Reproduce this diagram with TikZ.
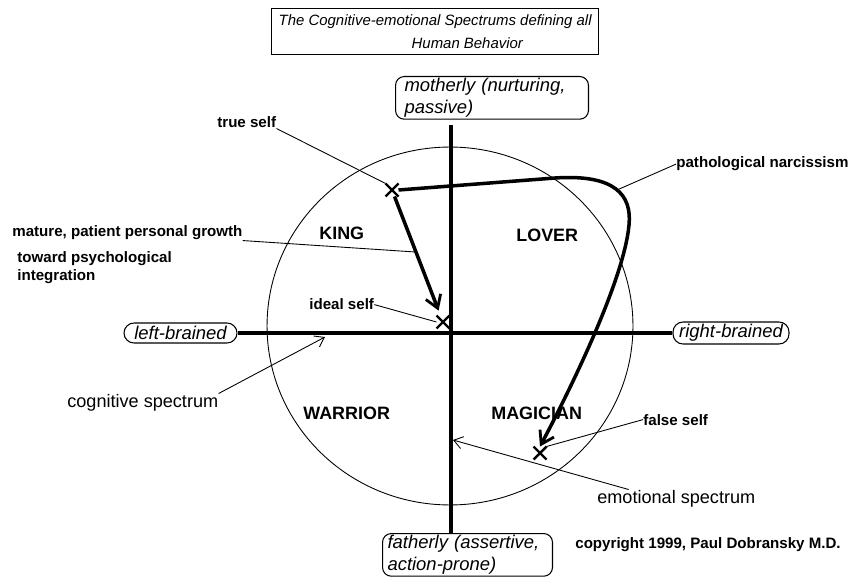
\documentclass[tikz,border=0pt]{standalone}
\usepackage{fontspec}
\setmainfont{Liberation Sans}
\usepackage{tikz}
\usetikzlibrary{arrows.meta, positioning, calc, shapes.misc}

\begin{document}
\begin{tikzpicture}[
        x=0.02cm, y=-0.02cm,
        % 1. VISUAL STYLES
        titlebox/.style={
            draw, line width=0.8pt, align=left, inner xsep=0.08cm,
            font=\fontsize{8.5}{13}\selectfont\itshape
        },
        % Poles of the spectrums (rounded boxes, italic)
        pole/.style={draw, line width=0.6pt, rounded corners=5pt, align=left,
            inner ysep=1pt, font=\fontsize{10.5}{12.5}\selectfont\itshape},
        pill/.style={draw, line width=0.6pt, rounded corners=0.2cm, inner sep=0pt,
            font=\fontsize{10.5}{12.5}\selectfont\itshape},
        % Archetypes in the four quadrants
        quad/.style={font=\fontsize{10.2}{12}\selectfont\bfseries, anchor=base west, inner sep=0pt},
        % Small bold labels and plain spectrum labels
        lbl/.style={font=\fontsize{8.6}{10.2}\selectfont\bfseries, anchor=base west, inner sep=0pt, align=left},
        spectrum/.style={font=\fontsize{10.3}{12}\selectfont, anchor=base west, inner sep=0pt},
        % Lines
        axis/.style={line width=2.2pt},
        ring/.style={line width=0.5pt},
        course/.style={line width=2pt, -{Straight Barb[length=7pt, width=9pt, line width=1.6pt]}},
        leader/.style={line width=0.5pt},
        pointer/.style={leader, -{Straight Barb[length=5pt, width=7pt]}},
        selfpt/.style={cross out, draw, line width=1.4pt, minimum size=6pt, inner sep=0pt}
    ]

        \useasboundingbox (0,0) rectangle (851,577);

        % 2. TITLE AND POLES
        \node[titlebox, anchor=north west, minimum width=6.54cm, minimum height=0.9cm] (title) at (271,8)
            {The Cognitive-emotional Spectrums defining all\\\hspace*{2.66cm}Human Behavior};

        \node[pole, anchor=north west, text width=3.5cm, inner xsep=0.18cm] (mother) at (395,76)
            {motherly (nurturing,\\passive)};
        \node[pole, anchor=north west, text width=3.2cm, inner xsep=0.1cm] (father) at (382,533)
            {fatherly (assertive,\\action-prone)};
        \node[pill, minimum width=2.26cm, minimum height=0.4cm] (lbrain) at (180.5,333) {left-brained};
        \node[pill, minimum width=2.32cm, minimum height=0.44cm] (rbrain) at (731,333) {right-brained};

        % 3. CIRCLE AND AXES
        \draw[ring] (450,326) ellipse [x radius=3.66cm, y radius=3.58cm];
        \coordinate (vx) at (451,0);
        \draw[axis] ([yshift=-3pt]mother.south -| vx) -- (father.north -| vx);
        \draw[axis] (lbrain.east) -- (rbrain.west);

        % 4. QUADRANTS
        \node[quad] (king) at (319,240) {KING};
        \node[quad] (lover) at (516,242) {LOVER};
        \node[quad] (warrior) at (303,419) {WARRIOR};
        \node[quad] (magician) at (491,419) {MAGICIAN};

        % 5. SELF POINTS AND COURSES
        \node[selfpt] (tsmark) at (392,190) {};
        \node[selfpt] (idmark) at (443,322) {};
        \node[selfpt] (fsmark) at (540,453) {};

        \draw[course, shorten >=3pt] (tsmark) -- (idmark);
        \draw[course] (tsmark.east) -- (555,178)
            .. controls (615,174) and (632,195) .. (629,225)
            .. controls (624,280) and (570,390) .. (fsmark.north);

        \coordinate (bend) at (617,190);
        \coordinate (cogpt) at (325,337);
        \coordinate (emopt) at (453,440);

        % 6. LABELS
        \node[lbl] (truelbl) at (217,128) {true self};
        \node[lbl] (mature) at (12,237) {mature, patient personal growth};
        \node[lbl, anchor=north west] (toward) at (17,251) {toward psychological\\integration};
        \node[lbl] (ideal) at (309,310) {ideal self};
        \node[lbl] (patho) at (676,168) {pathological narcissism};
        \node[lbl] (falselbl) at (643,425) {false self};
        \node[lbl] (copy) at (575,548) {copyright 1999, Paul Dobransky M.D.};
        \node[spectrum] (cogn) at (67,407) {cognitive spectrum};
        \node[spectrum] (emo) at (597,503) {emotional spectrum};

        % 7. LEADER LINES
        \draw[leader] (truelbl.south east) -- (tsmark.north west);
        \draw[leader] (mature.south east) -- ($(tsmark)!0.47!(idmark)$);
        \draw[leader] (ideal.east) -- (idmark.west);
        \draw[leader] (patho.west) -- (bend);
        \draw[leader] (falselbl.west) -- (fsmark.north east);
        \draw[pointer] (cogn.north east) -- (cogpt);
        \draw[pointer] ($(emo.north west)!0.2!(emo.north east)$) -- (emopt);

    \end{tikzpicture}
\end{document}
